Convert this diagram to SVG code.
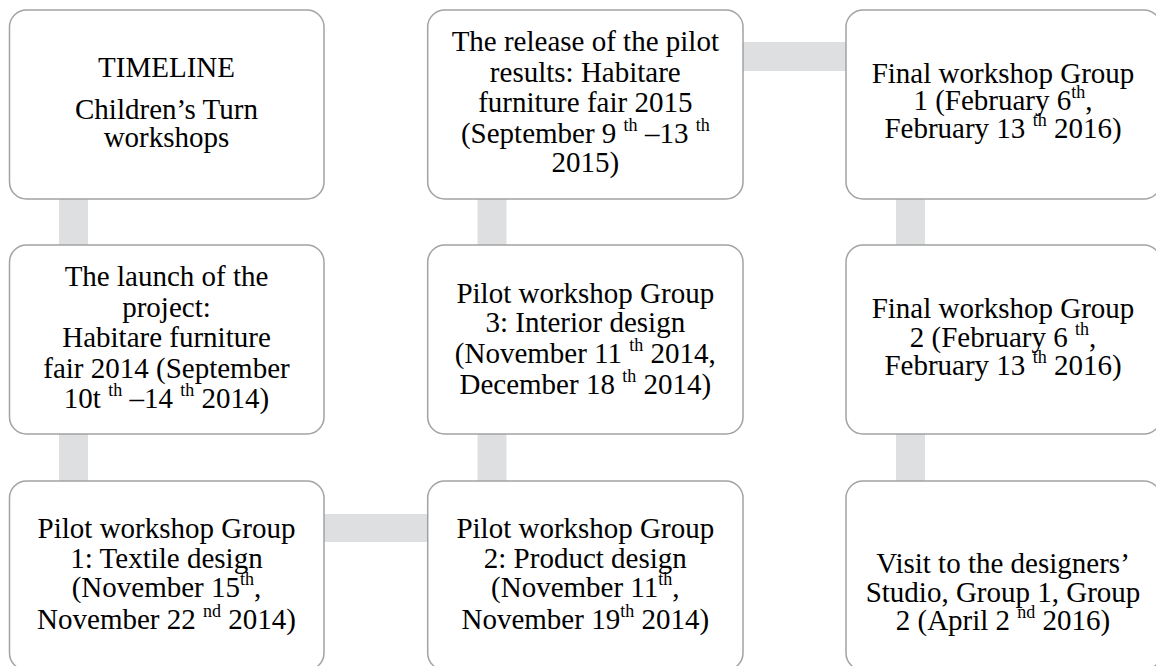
<svg xmlns="http://www.w3.org/2000/svg" width="1156" height="666" viewBox="0 0 1156 666">
<style>
.box{fill:#ffffff;stroke:#a3a3a3;stroke-width:1.5}
.con{fill:#dedfe1}
text{font-family:"Liberation Serif","Times New Roman",Tinos,serif;font-size:29px;fill:#000;text-anchor:middle}
.sup{font-size:18px}
</style>
<rect width="1156" height="666" fill="#ffffff"/>
<g id="connectors">
<rect class="con" x="59" y="198" width="29" height="284"/>
<rect class="con" x="477.5" y="198" width="29" height="284"/>
<rect class="con" x="896" y="198" width="29" height="284"/>
<rect class="con" x="323" y="514" width="106" height="28"/>
<rect class="con" x="742" y="42" width="105" height="29"/>
</g>
<g id="n1">
<rect class="box" x="9.5" y="10" width="314.5" height="189" rx="17"/>
<text x="166.5" y="76.7">TIMELINE</text>
<text x="166.5" y="119">Children’s Turn</text>
<text x="166.5" y="147.3">workshops</text>
</g>
<g id="n2">
<rect class="box" x="9.5" y="245" width="314.5" height="189" rx="17"/>
<text x="166.5" y="286">The launch of the</text>
<text x="166.5" y="316.5">project:</text>
<text x="166.5" y="347">Habitare furniture</text>
<text x="166.5" y="378">fair 2014 (September</text>
<text x="166.5" y="408">10t <tspan class="sup" dy="-12">th</tspan><tspan dy="12"> –14 </tspan><tspan class="sup" dy="-12">th</tspan><tspan dy="12"> 2014)</tspan></text>
</g>
<g id="n3">
<rect class="box" x="9.5" y="481" width="314.5" height="189" rx="17"/>
<text x="166.5" y="537.7">Pilot workshop Group</text>
<text x="166.5" y="568.3">1: Textile design</text>
<text x="166.5" y="597">(November 15<tspan class="sup" dy="-12">th</tspan><tspan dy="12">,</tspan></text>
<text x="166.5" y="629">November 22 <tspan class="sup" dy="-12">nd</tspan><tspan dy="12"> 2014)</tspan></text>
</g>
<g id="n4">
<rect class="box" x="427.7" y="481" width="315.3" height="189" rx="17"/>
<text x="585.3" y="537.7">Pilot workshop Group</text>
<text x="585.3" y="568.3">2: Product design</text>
<text x="585.3" y="597">(November 11<tspan class="sup" dy="-12">th</tspan><tspan dy="12">,</tspan></text>
<text x="585.3" y="629">November 19<tspan class="sup" dy="-12">th</tspan><tspan dy="12"> 2014)</tspan></text>
</g>
<g id="n5">
<rect class="box" x="427.7" y="245" width="315.3" height="189" rx="17"/>
<text x="585.3" y="303.3">Pilot workshop Group</text>
<text x="585.3" y="332">3: Interior design</text>
<text x="585.3" y="363">(November 11 <tspan class="sup" dy="-12">th</tspan><tspan dy="12"> 2014,</tspan></text>
<text x="585.3" y="394">December 18 <tspan class="sup" dy="-12">th</tspan><tspan dy="12"> 2014)</tspan></text>
</g>
<g id="n6">
<rect class="box" x="427.7" y="10" width="315.3" height="189" rx="17"/>
<text x="585.3" y="51">The release of the pilot</text>
<text x="585.3" y="81.7">results: Habitare</text>
<text x="585.3" y="111.7">furniture fair 2015</text>
<text x="585.3" y="143">(September 9 <tspan class="sup" dy="-12">th</tspan><tspan dy="12"> –13 </tspan><tspan class="sup" dy="-12">th</tspan></text>
<text x="585.3" y="171.7">2015)</text>
</g>
<g id="n7">
<rect class="box" x="846" y="10" width="315" height="189" rx="17"/>
<text x="1003" y="82.7">Final workshop Group</text>
<text x="1003" y="110.3">1 (February 6<tspan class="sup" dy="-12">th</tspan><tspan dy="12">,</tspan></text>
<text x="1003" y="138">February 13 <tspan class="sup" dy="-12">th</tspan><tspan dy="12"> 2016)</tspan></text>
</g>
<g id="n8">
<rect class="box" x="846" y="245" width="315" height="189" rx="17"/>
<text x="1003" y="318.3">Final workshop Group</text>
<text x="1003" y="346.7">2 (February 6 <tspan class="sup" dy="-12">th</tspan><tspan dy="12">,</tspan></text>
<text x="1003" y="375">February 13 <tspan class="sup" dy="-12">th</tspan><tspan dy="12"> 2016)</tspan></text>
</g>
<g id="n9">
<rect class="box" x="846" y="481" width="315" height="189" rx="17"/>
<text x="1003" y="573.3">Visit to the designers’</text>
<text x="1003" y="601.7">Studio, Group 1, Group</text>
<text x="1003" y="630">2 (April 2 <tspan class="sup" dy="-12">nd</tspan><tspan dy="12"> 2016)</tspan></text>
</g>
</svg>
